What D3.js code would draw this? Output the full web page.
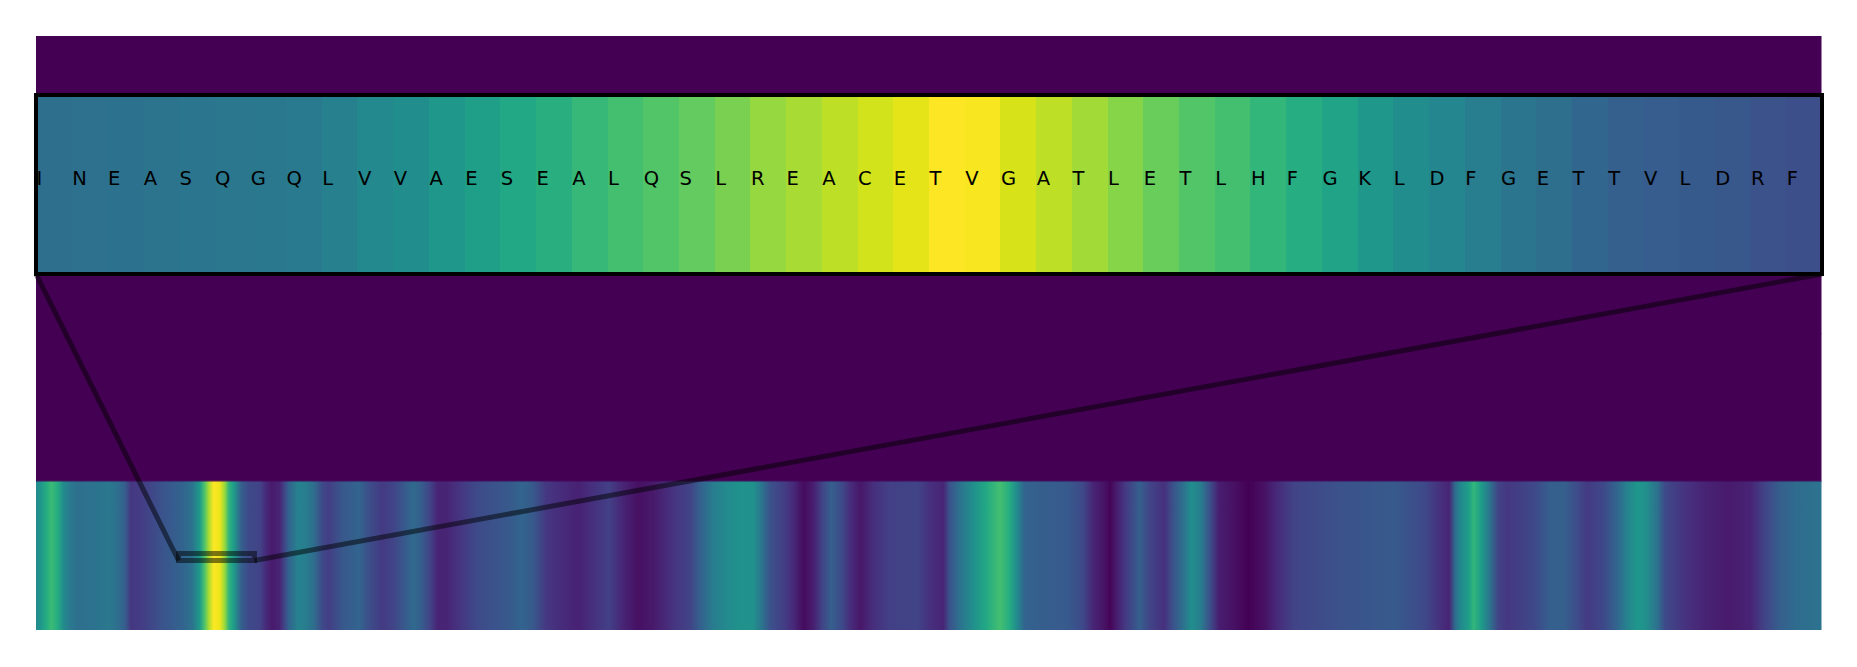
<!DOCTYPE html>
<html>
<head>
<meta charset="utf-8">
<script src="https://cdn.jsdelivr.net/npm/d3@7"></script>
<style>
  html, body { margin: 0; padding: 0; background: #fff; }
  svg { display: block; }
</style>
</head>
<body>
<svg id="chart" width="1857" height="667"></svg>
<script>
// residues shown in the zoomed window
var residues = ["I","N","E","A","S","Q","G","Q","L","V","V","A","E","S","E","A","L","Q","S","L","R","E","A","C","E","T","V","G","A","T","L","E","T","L","H","F","G","K","L","D","F","G","E","T","T","V","L","D","R","F"];
var windowValues = [.36,.37,.375,.38,.39,.395,.40,.41,.43,.47,.49,.53,.56,.60,.63,.67,.70,.73,.76,.80,.84,.87,.90,.93,.96,1,.99,.94,.90,.86,.82,.77,.73,.70,.66,.62,.58,.53,.49,.46,.42,.39,.36,.33,.30,.29,.28,.27,.25,.24];

var stripResidue = [0,3,7,10,14,18,22,27,39,48,53,58,62,70,83,96,102,107,110,113,116,120,123,126,129,134,139,146,150,154,159,162,165,171,176,181,187,191,200,211,217,226,233,240,246,251,257,262,268,276,287,298,309,317,324,333,344,354,363,374,383,393,403,416,427,433,442,450,459,468,473,479,488,494,501,507,513,519,526,531,538,546,557,575,583,592,596,603,612,620,629,635,640,645,653,673,683,690,697,701,704,711,720,727,736,742,749,754,760,766,772,782,791,801,810,821,851,886,906,917,922,926,930,935,938,943,948,954,960,978,988,997,1006,1012,1023,1032,1038,1045,1050,1058,1063,1075,1088,1104,1119,1128,1138,1149,1165];
var stripValue = [.47,.53,.62,.68,.62,.48,.41,.36,.38,.4,.36,.3,.16,.18,.26,.32,.38,.55,.72,.88,1,.97,.85,.65,.55,.3,.22,.2,.12,.07,.1,.2,.32,.44,.42,.36,.22,.18,.27,.32,.24,.17,.2,.27,.34,.3,.2,.1,.1,.15,.22,.25,.28,.32,.28,.16,.12,.09,.14,.19,.1,.04,.07,.15,.2,.3,.42,.47,.51,.5,.4,.25,.18,.12,.03,.08,.2,.3,.22,.13,.06,.13,.19,.2,.14,.1,.25,.38,.5,.6,.7,.62,.48,.32,.3,.28,.22,.1,.05,.01,.06,.17,.3,.2,.14,.25,.38,.49,.42,.24,.08,.04,0,.04,.12,.2,.25,.28,.22,.13,.1,.35,.48,.56,.66,.55,.4,.2,.16,.22,.3,.3,.23,.17,.22,.33,.44,.53,.5,.37,.22,.15,.1,.07,.1,.2,.3,.35,.38];

var sequenceLength = 1165;
var windowStart = 93, windowEnd = 142.5;
// the heatmap has 4 rows, only the last one holds data
var rows = [0, 1, 2, 3];
var markerRows = [3.485, 3.532];

var svg = d3.select("#chart");
var color = d3.scaleSequential(d3.interpolateViridis).domain([0, 1]);

var x = d3.scaleLinear().domain([0, sequenceLength]).range([36, 1821.5]);
var y = d3.scaleLinear().domain([0, rows.length]).range([36, 630]);
var zx = d3.scaleBand().domain(d3.range(residues.length)).range([36, 1822]);
var zy = d3.scaleLinear().domain([0, 1]).range([95, 274]);

// empty rows
svg.selectAll("rect.row")
    .data(rows.slice(0, 3))
  .enter().append("rect")
    .attr("class", "row")
    .attr("x", x(0))
    .attr("y", function(d) { return y(d); })
    .attr("width", x(sequenceLength) - x(0))
    .attr("height", y(1) - y(0) + .5)
    .attr("fill", color(0));

// strip
var grad = svg.append("defs").append("linearGradient")
    .attr("id", "strip")
    .attr("gradientUnits", "userSpaceOnUse")
    .attr("x1", x(0)).attr("x2", x(sequenceLength))
    .attr("y1", 0).attr("y2", 0);
grad.selectAll("stop")
    .data(stripValue)
  .enter().append("stop")
    .attr("offset", function(d, i) { return stripResidue[i] / sequenceLength; })
    .attr("stop-color", function(d) { return color(d); });

svg.append("rect")
    .attr("x", x(0))
    .attr("y", y(3))
    .attr("width", x(sequenceLength) - x(0))
    .attr("height", y(4) - y(3))
    .attr("fill", "url(#strip)");
// faint blend where the strip meets the empty row
svg.append("rect")
    .attr("x", x(0))
    .attr("y", y(3) - 1)
    .attr("width", x(sequenceLength) - x(0))
    .attr("height", 1)
    .attr("fill", "url(#strip)")
    .attr("opacity", .2);

// marker on the strip and its connectors
var marker = svg.append("g")
    .attr("fill", "none")
    .attr("stroke", "#000")
    .attr("stroke-opacity", .5)
    .attr("stroke-width", 5);
marker.append("rect")
    .attr("x", x(windowStart))
    .attr("y", y(markerRows[0]))
    .attr("width", x(windowEnd) - x(windowStart))
    .attr("height", y(markerRows[1]) - y(markerRows[0]));
marker.append("line")
    .attr("x1", zx.range()[0]).attr("y1", zy(1))
    .attr("x2", x(windowStart)).attr("y2", y(markerRows[1]));
marker.append("line")
    .attr("x1", zx.range()[1]).attr("y1", zy(1))
    .attr("x2", x(windowEnd)).attr("y2", y(markerRows[1]));

// zoomed window
svg.selectAll("rect.cell")
    .data(windowValues)
  .enter().append("rect")
    .attr("class", "cell")
    .attr("x", function(d, i) { return zx(i); })
    .attr("y", zy(0))
    .attr("width", zx.bandwidth())
    .attr("height", zy(1) - zy(0))
    .attr("shape-rendering", "crispEdges")
    .attr("fill", function(d) { return color(d); });

svg.selectAll("text.res")
    .data(residues)
  .enter().append("text")
    .attr("class", "res")
    .attr("x", function(d, i) { return zx(i) + .5; })
    .attr("y", zy(.5))
    .attr("font-family", "DejaVu Sans")
    .attr("font-size", 19.5)
    .attr("fill", "#000")
    .text(function(d) { return d; });

svg.append("rect")
    .attr("x", zx.range()[0])
    .attr("y", zy(0))
    .attr("width", zx.range()[1] - zx.range()[0])
    .attr("height", zy(1) - zy(0))
    .attr("fill", "none")
    .attr("stroke", "#000")
    .attr("stroke-width", 4);
</script>
</body>
</html>
